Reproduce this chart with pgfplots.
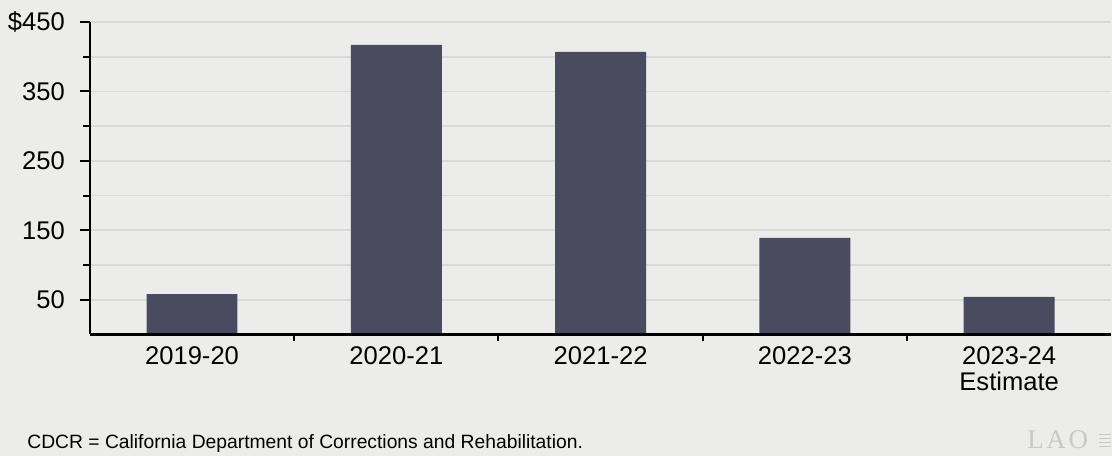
\documentclass[border=0pt]{standalone}
\usepackage{fontspec}
\setmainfont{Liberation Sans}
\newfontfamily\seriffont[LetterSpace=10]{Liberation Serif}
\usepackage{pgfplots}
\pgfplotsset{compat=1.18}
\definecolor{bgc}{RGB}{236,237,235}
\definecolor{barc}{RGB}{75,75,96}
\definecolor{gridc}{RGB}{216,217,216}
\definecolor{logoc}{RGB}{200,200,200}
\pgfplotsset{
  layers/mylayers/.define layer set={axis background,axis grid,main,axis ticks,axis lines,axis tick labels,axis descriptions,axis foreground}{/pgfplots/layers/standard},
}
\pagecolor{bgc}
\begin{document}
\begin{tikzpicture}
\path (0pt,0pt) rectangle (556pt,228pt);
\begin{axis}[
  set layers=mylayers,
  at={(45pt,60.625pt)}, anchor=south west,
  scale only axis, width=511pt, height=156.375pt,
  xmin=-0.5, xmax=4.4976, ymin=0, ymax=450,
  axis x line=bottom, axis y line=left,
  axis line style={-, line width=1.2pt, black},
  ytick={50,150,250,350,450},
  yticklabels={50,150,250,350,\$450},
  minor ytick={100,200,300,400},
  ymajorgrids, yminorgrids,
  major grid style={draw=gridc, line width=0.9pt},
  minor grid style={draw=gridc, line width=0.9pt},
  tick align=outside,
  major tick length=5pt, minor tick length=3.5pt,
  tick style={black, line width=1pt},
  xtick={0,1,2,3,4},
  xticklabels={2019-20,2020-21,2021-22,2022-23,{2023-24\\Estimate}},
  major x tick style={draw=none},
  minor xtick={0.5,1.5,2.5,3.5},
  minor x tick style={black, line width=1pt},
  ticklabel style={font=\fontsize{12.8}{13}\selectfont},
  xticklabel style={align=center, yshift=2.5pt},
  yticklabel style={xshift=-4pt},
  /pgf/number format/assume math mode=true,
]
\addplot[ybar, bar width=45.5pt, fill=barc, draw=none]
  coordinates {(0,58) (1,417) (2,407) (3,139) (4,54)};
\end{axis}
\node[anchor=base west, inner sep=0pt, font=\fontsize{9.65}{11}\selectfont] at (13.5pt,3.5pt)
  {CDCR = California Department of Corrections and Rehabilitation.};
\node[anchor=base west, inner sep=0pt, text=logoc, font=\seriffont\fontsize{13.5}{14}\selectfont] at (514pt,3.5pt) {LAO};
\foreach \yy in {4.5,6.5,8.5,10.5}{\draw[logoc, line width=0.6pt] (550pt,\yy pt) -- (556pt,\yy pt);}
\end{tikzpicture}
\end{document}
